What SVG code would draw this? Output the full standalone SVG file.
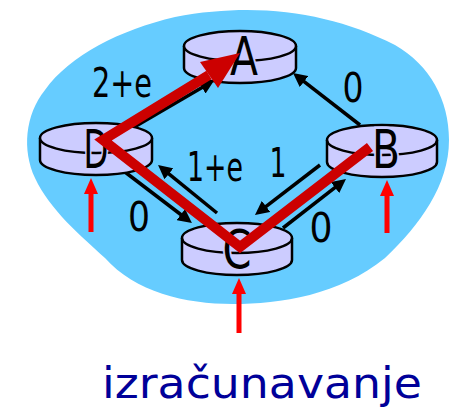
<svg xmlns="http://www.w3.org/2000/svg" width="450" height="411" viewBox="0 0 450 411">
<defs>
<style>
.body{fill:#CCCCFF;stroke:#000;stroke-width:2.5}
.lbl{font-family:"DejaVu Sans",sans-serif;font-size:54px;fill:#000;stroke:#CCCCFF;stroke-width:5;paint-order:stroke;text-anchor:middle}
.num{font-family:"DejaVu Sans",sans-serif;font-size:40px;fill:#000;text-anchor:middle}
.conn{stroke:#000;stroke-width:3.5;fill:none;marker-end:url(#ah)}
.up{stroke:#FF0000;stroke-width:5;fill:none}
</style>
<marker id="ah" viewBox="0 0 14 14" refX="4" refY="7" markerWidth="14" markerHeight="14" markerUnits="userSpaceOnUse" orient="auto">
<path d="M0,0 L14,7 L0,14 z" fill="#000"/>
</marker>
</defs>
<rect width="450" height="411" fill="#fff"/>
<path id="cloud" fill="#66CCFF" d="M247,10 C300,10 350,22 395,45 C430,65 449,100 449,140 C449,185 420,225 385,258 C340,295 280,304 233,304 C185,304 135,292 105,258 C80,235 50,210 35,178 C22,150 25,115 45,90 C70,55 120,30 175,17 C200,12 225,10 247,10 Z"/>
<g id="connectors">
<line class="conn" x1="112" y1="140" x2="205.5" y2="85.5"/>
<line class="conn" x1="360" y1="125" x2="300.9" y2="79.1"/>
<line class="conn" x1="125" y1="172" x2="184" y2="217"/>
<line class="conn" x1="217" y1="213" x2="165.8" y2="171.3"/>
<line class="conn" x1="320" y1="165" x2="262.9" y2="208.9"/>
<line class="conn" x1="283" y1="228" x2="338.1" y2="185.1"/>
</g>
<g id="labels">
<text class="num" x="122" y="97" textLength="60" lengthAdjust="spacingAndGlyphs">2+e</text>
<text class="num" x="353" y="102" textLength="21" lengthAdjust="spacingAndGlyphs">0</text>
<text class="num" x="215" y="181" textLength="56" lengthAdjust="spacingAndGlyphs">1+e</text>
<text class="num" x="278" y="177" textLength="17" lengthAdjust="spacingAndGlyphs">1</text>
<text class="num" x="139" y="231" textLength="22" lengthAdjust="spacingAndGlyphs">0</text>
<text class="num" x="321" y="242" textLength="23" lengthAdjust="spacingAndGlyphs">0</text>
</g>
<g id="A">
<path class="body" d="M184,46 v22 a56,15 0 0 0 112,0 v-22"/>
<ellipse class="body" cx="240" cy="46" rx="56" ry="15"/>
<text class="lbl" x="244" y="75" textLength="28" lengthAdjust="spacingAndGlyphs">A</text>
</g>
<g id="D">
<path class="body" d="M40,138 v22 a56,15 0 0 0 112,0 v-22"/>
<ellipse class="body" cx="96" cy="138" rx="56" ry="15"/>
<text class="lbl" x="96" y="168" textLength="25" lengthAdjust="spacingAndGlyphs">D</text>
</g>
<g id="B">
<path class="body" d="M327,140 v22 a55,15 0 0 0 110,0 v-22"/>
<ellipse class="body" cx="382" cy="140" rx="55" ry="15"/>
<text class="lbl" x="386" y="168" textLength="28" lengthAdjust="spacingAndGlyphs">B</text>
</g>
<g id="C">
<path class="body" d="M182,238 v22 a55,15 0 0 0 110,0 v-22"/>
<ellipse class="body" cx="237" cy="238" rx="55" ry="15"/>
<text class="lbl" x="237" y="268" textLength="29" lengthAdjust="spacingAndGlyphs">C</text>
</g>
<g id="path">
<polyline points="370,147 240,247 103,140 209,75" fill="none" stroke="#CC0000" stroke-width="10" stroke-linejoin="miter" stroke-miterlimit="10"/>
<polygon points="240,53 200,62 218,88" fill="#CC0000"/>
</g>
<g id="triggers">
<line class="up" x1="91" y1="232" x2="91" y2="190"/>
<polygon points="91,178 84,194 98,194" fill="#FF0000"/>
<line class="up" x1="387" y1="233" x2="387" y2="192"/>
<polygon points="387,180 380,196 394,196" fill="#FF0000"/>
<line class="up" x1="239" y1="333" x2="239" y2="290"/>
<polygon points="239,278 232,294 246,294" fill="#FF0000"/>
</g>
<text x="102" y="398" font-family="DejaVu Sans, sans-serif" font-size="42" fill="#000099" textLength="320" lengthAdjust="spacingAndGlyphs">izračunavanje</text>
</svg>
